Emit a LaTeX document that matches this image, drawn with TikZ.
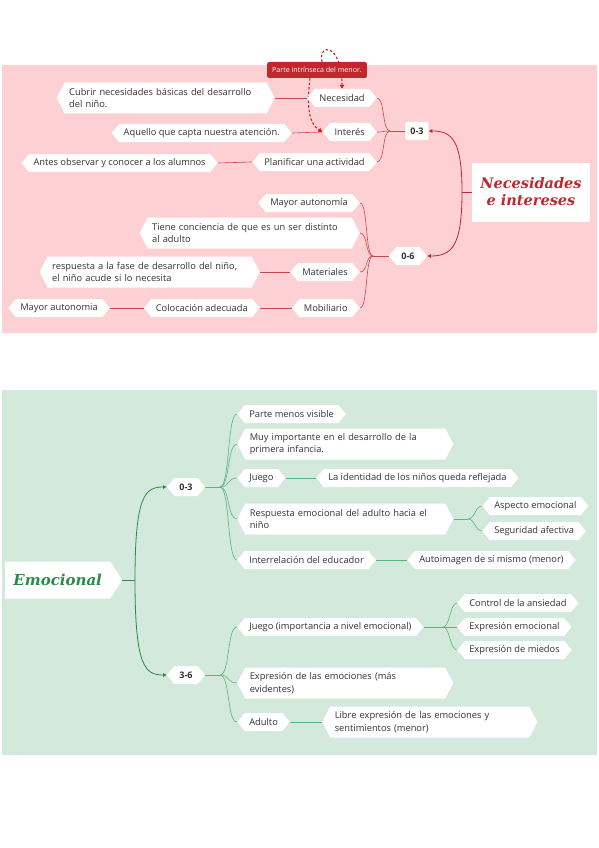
\documentclass[tikz,border=0pt]{standalone}
\usepackage{fontspec}
\setmainfont{Open Sans}
\newfontfamily\ttlfont{DejaVu Serif}
\usetikzlibrary{shapes.symbols,positioning,arrows.meta,calc,backgrounds}

\definecolor{rosebg}{HTML}{FDD1D4}
\definecolor{mintbg}{HTML}{D3E9DC}
\definecolor{redmain}{HTML}{C1272D}
\definecolor{redline}{HTML}{C24A50}
\definecolor{greenmain}{HTML}{2A8A48}
\definecolor{greenline}{HTML}{5AB37D}
\definecolor{ink}{HTML}{333333}

\begin{document}
\begin{tikzpicture}[x=1pt, y=-1pt,
  tag/.style={signal, signal to=east and west, signal pointer angle=100, fill=white, text=ink,
    font=\fontsize{9.3}{12.5}\selectfont, inner xsep=4.5pt, inner ysep=0pt, minimum height=18},
  tag2/.style={tag, signal pointer angle=125, align=left, text width=#1, minimum height=31},
  age/.style={tag, font=\fontsize{9}{10}\selectfont\bfseries, inner xsep=5pt},
  agebox/.style={rectangle, rounded corners=2pt, fill=white, text=ink,
    font=\fontsize{9}{10}\selectfont\bfseries, inner xsep=5pt, minimum height=18},
  callout/.style={rectangle, rounded corners=2pt, fill=redmain, text=white,
    font=\fontsize{7.1}{8}\selectfont, inner xsep=5pt, minimum height=16},
  rln/.style={draw=redline, line width=0.6pt},
  gln/.style={draw=greenline, line width=0.6pt},
  rarr/.style={draw=redmain, line width=0.8pt, -{Triangle[length=3.5pt,width=3.5pt]}},
  garr/.style={draw=greenmain, line width=0.8pt, -{Triangle[length=3.5pt,width=3.5pt]}},
  dsh/.style={draw=redmain, line width=1.1pt, dash pattern=on 2.5pt off 2pt, -{Triangle[length=4pt,width=4.5pt]}},
]
\useasboundingbox (0,0) rectangle (599,848);

% ====== Necesidades e intereses (top) ======
\node[rectangle, fill=white, minimum width=118, minimum height=59, align=center, text=redmain,
  font=\ttlfont\bfseries\itshape\fontsize{14.5}{17}\selectfont] (ttl) at (531,192) {Necesidades\\e intereses};
\node[agebox] (z3) at (417,131) {0-3};
\node[age] (z6) at (408,256) {0-6};
\node[callout] (call) at (317,70) {Parte intrínseca del menor.};

\node[tag, anchor=east] (nec) at (377,98) {Necesidad};
\node[tag, anchor=east] (int) at (377,132) {Interés};
\node[tag, anchor=east] (plan) at (377,162) {Planificar una actividad};
\node[tag2=193pt, anchor=east] (cub) at (275,98) {Cubrir necesidades básicas del desarrollo\\del niño.};
\node[tag, anchor=east] (aqu) at (292,133) {Aquello que capta nuestra atención.};
\node[tag, anchor=east] (ant) at (218,163) {Antes observar y conocer a los alumnos};

\node[tag, anchor=east] (may) at (360,203) {Mayor autonomía};
\node[tag2=195pt, anchor=east] (tie) at (360,233) {Tiene conciencia de que es un ser distinto\\al adulto};
\node[tag, anchor=east] (mat) at (360,272) {Materiales};
\node[tag, anchor=east] (mob) at (360,308) {Mobiliario};
\node[tag2=195pt, anchor=east] (res) at (260,272) {respuesta a la fase de desarrollo del niño,\\el niño acude si lo necesita};
\node[tag, anchor=east] (col) at (260,308) {Colocación adecuada};
\node[tag, anchor=east] (may2) at (110,308) {Mayor autonomia};

\coordinate (tj) at (462,192);
\coordinate (j3) at (390,131);
\coordinate (j6) at (373,256);

% ====== Emocional (bottom) ======
\node[signal, signal to=east, signal pointer angle=114, fill=white, minimum height=37, minimum width=117,
  anchor=west, text=greenmain, font=\ttlfont\bfseries\itshape\fontsize{15}{17}\selectfont] (emo) at (5,580) {Emocional};
\node[age] (g03) at (186,487) {0-3};
\node[age] (g36) at (186,675) {3-6};

\node[tag, anchor=west] (par) at (237,414) {Parte menos visible};
\node[tag2=191pt, anchor=west] (muy) at (237,444) {Muy importante en el desarrollo de la\\primera infancia.};
\node[tag, anchor=west] (jue) at (237,478) {Juego};
\node[tag, anchor=west] (ide) at (316,478) {La identidad de los niños queda reflejada};
\node[tag2=191pt, anchor=west] (resp) at (237,519) {Respuesta emocional del adulto hacia el\\niño};
\node[tag, anchor=west] (asp) at (482,506) {Aspecto emocional};
\node[tag, anchor=west] (seg) at (482,531) {Seguridad afectiva};
\node[tag, anchor=west] (inter) at (237,560) {Interrelación del educador};
\node[tag, anchor=west] (auto) at (407,560) {Autoimagen de sí mismo (menor)};

\node[tag, anchor=west] (jim) at (237,627) {Juego (importancia a nivel emocional)};
\node[tag, anchor=west] (ctl) at (457,603) {Control de la ansiedad};
\node[tag, anchor=west] (exe) at (457,627) {Expresión emocional};
\node[tag, anchor=west] (exm) at (457,650) {Expresión de miedos};
\node[tag2=191pt, anchor=west] (expr) at (237,683) {Expresión de las emociones (más\\evidentes)};
\node[tag, anchor=west] (adu) at (237,722) {Adulto};
\node[tag2=190pt, anchor=west] (lib) at (322,722) {Libre expresión de las emociones y\\sentimientos (menor)};

\coordinate (ej) at (135,580);
\coordinate (gj3) at (220,487);
\coordinate (gj6) at (220,675);
\coordinate (rj) at (468,519);
\coordinate (jj) at (443,627);

\begin{scope}[on background layer]
  \fill[white] (0,0) rectangle (599,848);
  \fill[rosebg] (2,65) rectangle (597,333);
  \fill[mintbg] (2,390) rectangle (597,755);

  % red branches
  \draw[draw=redmain, line width=0.8pt] (ttl.west) -- (tj);
  \draw[rarr] (tj) .. controls (462,140) and (452,131) .. (z3.east);
  \draw[rarr] (tj) .. controls (462,246) and (452,256) .. (z6.east);
  \draw[rln] (z3.west) -- (j3);
  \foreach \c in {nec,int,plan}
    \draw[rln] (j3) .. controls +(-8,0) and +(8,0) .. (\c.east);
  \draw[rln] (z6.west) -- (j6);
  \foreach \c in {may,tie,mat,mob}
    \draw[rln] (j6) .. controls +(-8,0) and +(8,0) .. (\c.east);
  \draw[rln] (cub.east) -- (nec.west);
  \draw[rln] (aqu.east) -- (int.west);
  \draw[rln] (ant.east) -- (plan.west);
  \draw[rln] (res.east) -- (mat.west);
  \draw[rln] (col.east) -- (mob.west);
  \draw[rln] (may2.east) -- (col.west);
  \draw[dsh] ([xshift=5]call.north) .. controls (318,42) and (342,44) .. (nec.north);
  \draw[dsh] ([xshift=-7]call.south) .. controls (306,110) and (310,124) .. (int.west);

  % green branches
  \draw[draw=greenmain, line width=0.8pt] (emo.east) -- (ej);
  \draw[garr] (ej) .. controls (135,495) and (145,487) .. (g03.west);
  \draw[garr] (ej) .. controls (135,667) and (145,675) .. (g36.west);
  \draw[gln] (g03.east) -- (gj3);
  \foreach \c in {par,muy,jue,resp,inter}
    \draw[gln] (gj3) .. controls +(10,0) and +(-10,0) .. (\c.west);
  \draw[gln] (g36.east) -- (gj6);
  \foreach \c in {jim,expr,adu}
    \draw[gln] (gj6) .. controls +(10,0) and +(-10,0) .. (\c.west);
  \draw[gln] (resp.east) -- (rj);
  \foreach \c in {asp,seg}
    \draw[gln] (rj) .. controls +(7,0) and +(-7,0) .. (\c.west);
  \draw[gln] (jim.east) -- (jj);
  \foreach \c in {ctl,exe,exm}
    \draw[gln] (jj) .. controls +(7,0) and +(-7,0) .. (\c.west);
  \draw[gln] (jue.east) -- (ide.west);
  \draw[gln] (inter.east) -- (auto.west);
  \draw[gln] (adu.east) -- (lib.west);
\end{scope}

\end{tikzpicture}
\end{document}
